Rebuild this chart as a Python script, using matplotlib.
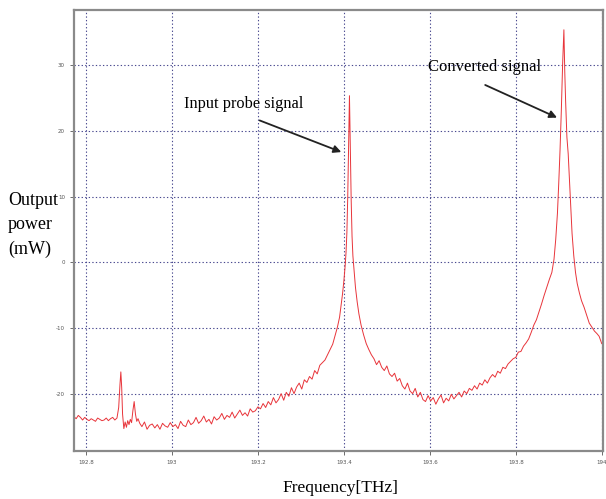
import matplotlib.pyplot as plt

plt.rcParams['axes.unicode_minus'] = False

# spectrum (frequency in THz, output power in mW)
freq = [
    192.772, 192.777, 192.782, 192.787, 192.792, 192.797, 192.802, 192.807, 192.812, 192.817,
    192.822, 192.827, 192.832, 192.837, 192.842, 192.847, 192.852, 192.857, 192.862, 192.867,
    192.872, 192.876, 192.879, 192.881, 192.883, 192.885, 192.888, 192.891, 192.894, 192.897,
    192.900, 192.903, 192.906, 192.909, 192.912, 192.915, 192.918, 192.921, 192.925,
    192.930, 192.936, 192.942, 192.948, 192.954, 192.960, 192.966, 192.972, 192.978, 192.984,
    192.990, 192.996, 193.002, 193.008, 193.014, 193.020, 193.026, 193.032, 193.038, 193.044,
    193.050, 193.056, 193.062, 193.068, 193.074, 193.080, 193.086, 193.092, 193.098, 193.104,
    193.110, 193.116, 193.122, 193.128, 193.134, 193.140, 193.146, 193.152, 193.158, 193.164,
    193.170, 193.176, 193.182, 193.188, 193.194, 193.200,
    193.206, 193.212, 193.218, 193.224, 193.230, 193.236, 193.242, 193.248, 193.254, 193.260,
    193.266, 193.272, 193.278, 193.284, 193.290, 193.296, 193.302, 193.308, 193.314, 193.320,
    193.326, 193.332, 193.338, 193.344, 193.350, 193.356, 193.362, 193.368, 193.374,
    193.380, 193.385, 193.390, 193.394, 193.397, 193.400, 193.403, 193.405, 193.407, 193.409,
    193.411, 193.413, 193.415, 193.417, 193.419, 193.421, 193.424, 193.427, 193.431, 193.435,
    193.440, 193.446, 193.452, 193.458, 193.464, 193.470,
    193.476, 193.482, 193.488, 193.494, 193.500, 193.506, 193.512, 193.518, 193.524, 193.530,
    193.536, 193.542, 193.548, 193.554, 193.560, 193.566, 193.572, 193.578, 193.584, 193.590,
    193.596, 193.602, 193.608, 193.614, 193.620, 193.626, 193.632, 193.638, 193.644, 193.650,
    193.656, 193.662, 193.668, 193.674, 193.680, 193.686, 193.692, 193.698, 193.704, 193.710,
    193.716, 193.722, 193.728, 193.734, 193.740, 193.746, 193.752, 193.758, 193.764, 193.770,
    193.776, 193.782, 193.788, 193.794, 193.800, 193.806, 193.812, 193.818, 193.824, 193.830,
    193.836, 193.842, 193.848, 193.854, 193.860, 193.866, 193.872, 193.878, 193.884, 193.889,
    193.893, 193.897, 193.900, 193.903, 193.906, 193.909, 193.912, 193.914, 193.916, 193.919,
    193.922, 193.925, 193.928, 193.931, 193.935, 193.939, 193.943, 193.948, 193.953, 193.959,
    193.965, 193.971, 193.977, 193.983, 193.989, 193.994, 194.000,
]
power = [
    -23.4, -23.7, -23.2, -23.5, -23.9, -23.5, -23.8, -24.0, -23.7, -23.9,
    -24.1, -23.6, -23.8, -24.0, -23.9, -23.6, -24.0, -23.7, -23.5, -23.9,
    -23.6, -22.0, -18.5, -16.6, -19.0, -23.0, -25.2, -24.2, -25.0, -24.0,
    -24.6, -23.8, -24.3, -22.5, -21.1, -23.0, -24.1, -23.7, -24.4,
    -24.9, -24.2, -25.3, -24.7, -24.5, -25.1, -24.6, -25.3, -24.4, -24.8,
    -25.0, -24.3, -24.9, -24.6, -25.2, -24.1, -24.7, -24.9, -23.9, -24.6,
    -24.3, -23.5, -24.4, -24.0, -23.3, -24.2, -23.8, -24.5, -23.4, -23.9,
    -23.6, -22.9, -23.8, -23.2, -23.5, -22.7, -23.6, -23.0, -22.4, -23.2,
    -22.8, -23.3, -22.2, -22.7, -22.5, -21.9,
    -22.2, -21.4, -22.0, -21.1, -21.6, -20.5, -21.3, -20.8, -19.9, -20.9,
    -19.7, -20.3, -19.0, -19.9, -18.9, -18.3, -19.2, -17.8, -18.2, -17.3,
    -17.7, -16.4, -16.9, -15.6, -15.2, -14.8, -14.0, -13.2, -12.4,
    -11.0, -9.8, -8.3, -6.2, -4.7, -2.8, -0.5, 1.5, 4.5, 10.0,
    17.5, 25.3, 17.0, 9.5, 4.0, 1.0, -1.5, -3.8, -6.0, -7.8,
    -9.5, -11.0, -12.3, -13.2, -14.0, -14.6,
    -15.5, -14.9, -15.9, -16.4, -15.7, -16.9, -17.3, -16.8, -18.0, -17.6,
    -18.7, -19.2, -18.3, -19.5, -19.9, -19.1, -20.4, -19.7, -20.8, -21.1,
    -20.2, -21.0, -20.5, -21.5, -20.7, -20.1, -21.3, -20.6, -21.0, -20.0,
    -20.7, -20.2, -19.7, -20.4, -19.5, -19.9, -19.1, -19.4, -18.7, -19.2,
    -18.3, -18.6, -17.8, -18.3, -17.5, -17.0, -17.4, -16.5, -16.8, -15.9,
    -16.1, -15.4, -15.0, -14.6, -14.4, -13.6, -13.5, -12.7, -12.2, -11.6,
    -10.6, -9.5, -8.7, -7.5, -6.3, -5.0, -3.8, -2.6, -1.5, 0.5,
    3.5, 7.5, 12.0, 17.0, 23.0, 30.0, 35.3, 29.0, 24.5, 19.0,
    16.5, 12.5, 8.5, 4.4, 1.0, -1.5, -3.2, -4.6, -5.8, -6.8,
    -8.0, -9.2, -9.8, -10.4, -10.8, -11.2, -12.3,
]

x_ticks = [192.8, 193.0, 193.2, 193.4, 193.6, 193.8, 194.0]
x_tick_labels = ["192.8", "193", "193.2", "193.4", "193.6", "193.8", "194"]
y_ticks = [-20, -10, 0, 10, 20, 30]

serif = ["Liberation Serif", "DejaVu Serif"]

fig = plt.figure(figsize=(6.06, 4.99), dpi=100)
ax = fig.add_axes([74 / 606, 48 / 499, 529 / 606, 441 / 499])

ax.plot(freq, power, color="#e8343a", lw=0.7)

ax.set_xlim(192.772, 194.003)
ax.set_ylim(-28.6, 38.3)
ax.set_xticks(x_ticks)
ax.set_xticklabels(x_tick_labels)
ax.set_yticks(y_ticks)
ax.tick_params(labelsize=4, colors="#555555", length=3, width=0.6)
ax.grid(True, color="#4a4a90", linestyle=(0, (1.2, 2)), linewidth=0.8)

for s in ax.spines.values():
    s.set_color("#8a8a8a")
    s.set_linewidth(1.6)

# annotations
ax.text(193.167, 24.0, "Input probe signal", family=serif, fontsize=11.8,
        ha="center", va="center")
ax.annotate("", xy=(193.400, 16.6), xytext=(193.198, 21.7),
            arrowprops=dict(arrowstyle="-|>", color="#222222", lw=1.3,
                            mutation_scale=11))
ax.text(193.727, 29.6, "Converted signal", family=serif, fontsize=12,
        ha="center", va="center")
ax.annotate("", xy=(193.902, 21.8), xytext=(193.723, 27.1),
            arrowprops=dict(arrowstyle="-|>", color="#222222", lw=1.3,
                            mutation_scale=11))

fig.text(8 / 606, 1 - 225 / 499, "Output\npower\n(mW)", family=serif,
         fontsize=13, ha="left", va="center", linespacing=1.55)
fig.text(340 / 606, 1 - 488 / 499, "Frequency[THz]", family=serif,
         fontsize=12.5, ha="center", va="center")

fig.savefig("out.png", dpi=100)
